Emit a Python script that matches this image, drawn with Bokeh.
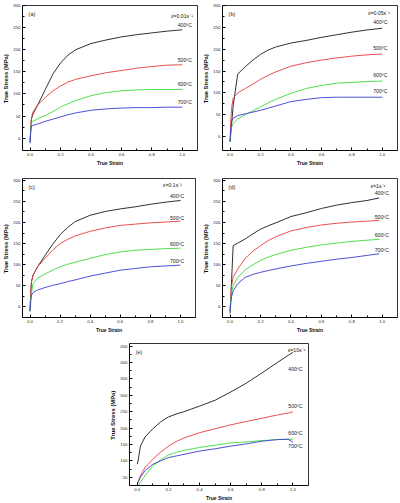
from bokeh.plotting import figure
from bokeh.models import ColumnDataSource, FixedTicker, NumeralTickFormatter, Label, Spacer
from bokeh.layouts import column, row
from bokeh.core.properties import value
from bokeh.embed import file_html
from bokeh.resources import INLINE

temps = ["400ºC", "500ºC", "600ºC", "700ºC"]
colors = ["#1a1a1a", "#e83c3c", "#3cdc3c", "#3c3cd0"]

# ---- (a) 0.01 s^-1
strain_a = [0, 0.005, 0.01, 0.02, 0.05, 0.1, 0.15, 0.2, 0.25, 0.3, 0.4, 0.5, 0.6, 0.7, 0.8, 0.9, 1.0]
a_400 = [-8, 25, 45, 55, 75, 110, 145, 170, 188, 200, 214, 222, 229, 234, 238, 242, 245]
a_500 = [-8, 30, 48, 60, 75, 92, 107, 118, 127, 133, 141, 148, 153, 158, 162, 165, 166]
a_600 = [-8, 25, 35, 38, 44, 51, 60, 70, 78, 85, 96, 103, 107, 109, 110, 110, 110]
a_700 = [-12, 20, 28, 29, 32, 38, 43, 48, 53, 57, 63, 66, 68, 69, 69, 70, 70]

# ---- (b) 0.05 s^-1
strain_b = [0, 0.005, 0.01, 0.02, 0.05, 0.1, 0.15, 0.2, 0.25, 0.3, 0.4, 0.5, 0.6, 0.7, 0.8, 0.9, 1.0]
b_400 = [-12, 10, 30, 70, 143, 160, 175, 188, 198, 205, 214, 220, 227, 233, 239, 244, 248]
b_500 = [-10, 40, 65, 88, 100, 110, 120, 131, 140, 148, 161, 169, 175, 180, 184, 187, 189]
b_600 = [-10, 12, 22, 30, 40, 50, 59, 68, 77, 85, 99, 110, 117, 122, 124, 126, 127]
b_700 = [-12, 20, 35, 42, 48, 52, 56, 60, 65, 70, 80, 85, 89, 90, 90, 90, 90]

# ---- (c) 0.1 s^-1
strain_c = [0, 0.005, 0.01, 0.02, 0.05, 0.1, 0.15, 0.2, 0.25, 0.3, 0.4, 0.5, 0.6, 0.7, 0.8, 0.9, 1.0]
c_400 = [-10, 35, 60, 75, 95, 122, 148, 171, 188, 202, 217, 226, 232, 237, 243, 248, 252]
c_500 = [-10, 35, 60, 75, 95, 115, 134, 150, 160, 168, 179, 187, 193, 196, 199, 201, 203]
c_600 = [-10, 20, 35, 55, 68, 78, 87, 95, 101, 106, 115, 124, 130, 134, 136, 138, 139]
c_700 = [-10, 15, 28, 34, 40, 46, 51, 55, 60, 64, 73, 80, 87, 91, 95, 97, 99]

# ---- (d) 1 s^-1
strain_d = [0, 0.005, 0.01, 0.02, 0.05, 0.1, 0.15, 0.2, 0.25, 0.3, 0.4, 0.5, 0.6, 0.7, 0.8, 0.9, 0.98]
d_400 = [-15, 25, 65, 145, 151, 161, 173, 184, 192, 199, 214, 223, 233, 241, 247, 252, 258]
d_500 = [-10, 30, 50, 70, 90, 115, 132, 145, 157, 166, 180, 188, 194, 198, 201, 203, 205]
d_600 = [-10, 20, 35, 50, 70, 88, 100, 110, 118, 124, 134, 141, 147, 151, 155, 158, 160]
d_700 = [-10, 12, 25, 38, 55, 70, 77, 82, 86, 90, 97, 103, 108, 113, 117, 122, 126]

# ---- (e) 10 s^-1
strain_e = [0, 0.005, 0.01, 0.02, 0.05, 0.1, 0.15, 0.2, 0.25, 0.3, 0.4, 0.5, 0.6, 0.7, 0.8, 0.9, 0.97, 1.0]
e_400 = [90, 100, 115, 145, 173, 198, 219, 234, 243, 250, 267, 285, 310, 337, 368, 400, 422, 431]
e_500 = [30, 35, 42, 55, 80, 105, 127, 145, 159, 170, 186, 198, 210, 220, 230, 240, 246, 250]
e_600 = [20, 24, 28, 35, 55, 85, 103, 118, 126, 132, 141, 148, 155, 158, 162, 165, 166, 166]
e_700 = [30, 35, 40, 50, 70, 90, 100, 110, 115, 120, 130, 137, 145, 152, 160, 165, 166, 157]

x_ticks = [0.0, 0.2, 0.4, 0.6, 0.8, 1.0]
x_minor = [0.1, 0.3, 0.5, 0.7, 0.9]

FONT = "Liberation Sans"

panels = [
    dict(tag="(a)", rate="ε̇=0.01s⁻¹", x=strain_a, ys=[a_400, a_500, a_600, a_700],
         yr=(-28, 300), yt=list(range(0, 301, 50)), w=200, h=168,
         b=(17, 3, 5, 18), off=[-5, -5, -5, -5], rate_x=1.07, rate_y=277, lx=-0.03),
    dict(tag="(b)", rate="ε̇=0.05s⁻¹", x=strain_b, ys=[b_400, b_500, b_600, b_700],
         yr=(-32, 300), yt=list(range(0, 301, 50)), w=200, h=168,
         b=(21, 3, 5, 18), off=[-6, -6, -6, -6], rate_x=1.05, rate_y=283, lx=-0.06),
    dict(tag="(c)", rate="ε̇=0.1s⁻¹", x=strain_c, ys=[c_400, c_500, c_600, c_700],
         yr=(-25, 304), yt=list(range(0, 301, 50)), w=200, h=167,
         b=(17, 5, 10, 12), off=[-4, -3, -4, -4], rate_x=1.01, rate_y=288, lx=-0.07),
    dict(tag="(d)", rate="ε̇=1s⁻¹", x=strain_d, ys=[d_400, d_500, d_600, d_700],
         yr=(-25, 304), yt=list(range(0, 301, 50)), w=200, h=167,
         b=(21, 3, 9, 13), off=[-5, -3, -4, -4], rate_x=1.02, rate_y=286, lx=-0.03),
    dict(tag="(e)", rate="ε̇=10s⁻¹", x=strain_e, ys=[e_400, e_500, e_600, e_700],
         yr=(25, 458), yt=list(range(50, 451, 50)), w=210, h=168,
         b=(29, 2, 8, 16), off=[17, -6, -6, 4], rate_x=1.08, rate_y=438, lx=-0.03),
]


def make(cfg):
    bl, br, bt, bb = cfg["b"]
    p = figure(width=cfg["w"], height=cfg["h"], x_range=(-0.05, 1.1), y_range=cfg["yr"],
               output_backend="svg", toolbar_location=None,
               min_border_left=bl, min_border_right=br, min_border_top=bt, min_border_bottom=bb)
    p.grid.visible = False
    p.outline_line_color = "black"
    p.outline_line_width = 0.8
    p.background_fill_color = "white"
    p.border_fill_color = "white"

    for ax in (p.xaxis, p.yaxis):
        ax.axis_line_width = 0.8
        ax.major_tick_in = 3
        ax.major_tick_out = 0
        ax.minor_tick_in = 2
        ax.minor_tick_out = 0
        ax.major_label_standoff = 2
        ax.axis_label_standoff = 1
        ax.major_label_text_font = FONT
        ax.major_label_text_font_size = "4.3px"
        ax.major_label_text_color = "#222222"
        ax.axis_label_text_font = FONT
        ax.axis_label_text_font_style = "bold"
        ax.axis_label_text_color = "#111111"

    p.xaxis.ticker = FixedTicker(ticks=x_ticks, minor_ticks=x_minor)
    p.xaxis.formatter = NumeralTickFormatter(format="0.0")
    p.xaxis.axis_label = "True Strain"
    p.xaxis.axis_label_text_font_size = "5px"
    yt = cfg["yt"]
    p.yaxis.ticker = FixedTicker(ticks=yt, minor_ticks=[v + 25 for v in yt[:-1]])
    p.yaxis.axis_label = "True Stress  (MPa)"
    p.yaxis.axis_label_text_font_size = "5.8px"

    xs = cfg["x"]
    lab_x, lab_y, lab_off = [], [], []
    for ys, c, off in zip(cfg["ys"], colors, cfg["off"]):
        p.line(xs, ys, line_color=c, line_width=0.9)
        lab_x.append(xs[-1] + cfg["lx"])
        lab_y.append(ys[-1])
        lab_off.append(off)
    src = ColumnDataSource(dict(x=lab_x, y=lab_y, t=temps, off=lab_off))
    p.text(x="x", y="y", text="t", y_offset="off", source=src,
           text_font=value(FONT), text_font_size="5.2px", text_color="#222222",
           text_align="left", text_baseline="middle")

    p.add_layout(Label(x=cfg["rate_x"], y=cfg["rate_y"], text=cfg["rate"],
                       text_font=FONT, text_font_size="5.2px", text_color="#222222",
                       text_align="right", text_baseline="middle"))
    ytop = cfg["yr"][1]
    yspan = cfg["yr"][1] - cfg["yr"][0]
    p.add_layout(Label(x=-0.01, y=ytop - 0.06 * yspan, text=cfg["tag"],
                       text_font=FONT, text_font_size="5.5px", text_color="#222222",
                       text_align="left", text_baseline="middle"))
    return p


figs = [make(c) for c in panels]
layout = column(
    row(figs[0], figs[1], spacing=0),
    row(figs[2], figs[3], spacing=0),
    row(Spacer(width=100, height=168), figs[4], spacing=0),
    spacing=0,
)

open("out.html", "w").write(file_html(layout, INLINE))
